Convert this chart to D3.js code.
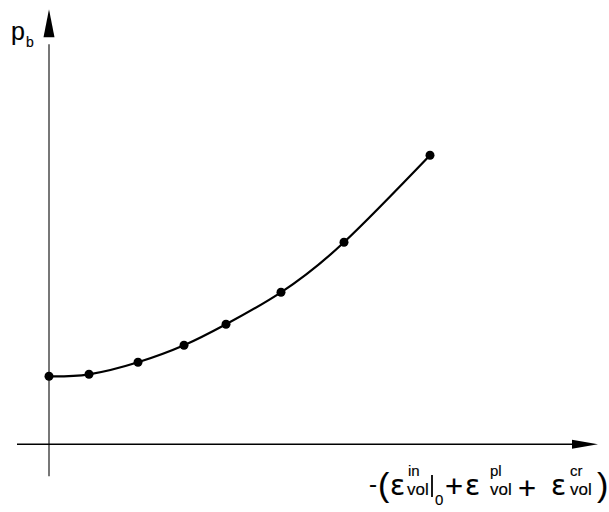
<!DOCTYPE html>
<html><head><meta charset="utf-8">
<script src="https://cdn.jsdelivr.net/npm/d3@7"></script>
<style>
html,body{margin:0;padding:0;background:#fff;}
svg{display:block;font-family:Arial,"Liberation Sans",sans-serif;}
text{fill:#000;stroke:#000;stroke-width:0.15px;}
text.eps{font-family:"DejaVu Sans",sans-serif;}
</style></head>
<body>
<script>
// data (arbitrary units)
const strain = [0, 0.40, 0.89, 1.35, 1.77, 2.32, 2.95, 3.81];
const pressure = [0.68, 0.70, 0.82, 0.99, 1.20, 1.52, 2.02, 2.89];
const yLabel = ["p", "b"];

const W = 609, H = 512;
const svg = d3.select("body").append("svg").attr("width", W).attr("height", H);

const x = d3.scaleLinear().domain([0, 5.5]).range([49, 599]);
const y = d3.scaleLinear().domain([0, 4.35]).range([444.3, 9.3]);

// axes
svg.append("line").attr("x1", x(0)).attr("x2", x(0)).attr("y1", y(-0.32)).attr("y2", y(4.0))
  .attr("stroke", "#555").attr("stroke-width", 1.6);
svg.append("path").attr("d", `M${x(0)},${y(4.35)} L${x(0)-5.5},${y(4.07)} L${x(0)+5.5},${y(4.07)} Z`).attr("fill", "#000");

svg.append("line").attr("x1", x(-0.32)).attr("x2", x(5.3)).attr("y1", y(0)).attr("y2", y(0))
  .attr("stroke", "#000").attr("stroke-width", 1.5);
svg.append("path").attr("d", `M${x(5.49)},${y(0)} L${x(5.23)},${y(0)-4.5} L${x(5.23)},${y(0)+4.5} Z`).attr("fill", "#000");

// curve
const pts = strain.map((s, i) => [s, pressure[i]]);
svg.append("path").datum(pts)
  .attr("d", d3.line().x(d => x(d[0])).y(d => y(d[1])).curve(d3.curveNatural))
  .attr("fill", "none").attr("stroke", "#000").attr("stroke-width", 2.2);
svg.selectAll("circle.pt").data(pts).join("circle").attr("class", "pt")
  .attr("cx", d => x(d[0])).attr("cy", d => y(d[1])).attr("r", 4.5).attr("fill", "#000");

// y label
svg.append("text").attr("x", 11).attr("y", 40).attr("font-size", 25).text(yLabel[0]);
svg.append("text").attr("x", 26).attr("y", 47).attr("font-size", 14).text(yLabel[1]);

// x label
const T = (txt, xx, yy, fs, cls) => svg.append("text").attr("class", cls || null).attr("x", xx).attr("y", yy).attr("font-size", fs).text(txt);
T("-", 369, 492, 24);
T("(", 378, 496, 34);
T("ε", 390, 495, 28, "eps");
T("in", 408, 476, 15);
T("vol", 407, 495, 17);
svg.append("line").attr("x1", 432).attr("x2", 432).attr("y1", 475).attr("y2", 497).attr("stroke", "#000").attr("stroke-width", 1.8);
T("0", 435, 505, 15);
T("+", 445, 497, 31);
T("ε", 465, 495, 28, "eps");
T("pl", 490, 476, 15);
T("vol", 490, 495, 17);
T("+", 518, 499, 31);
T("ε", 551, 495, 28, "eps");
T("cr", 570, 476, 15);
T("vol", 570, 495, 17);
T(")", 597, 496, 34);
</script>
</body></html>
